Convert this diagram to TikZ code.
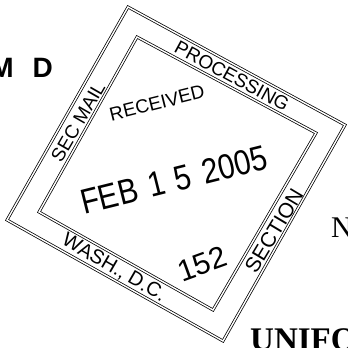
\documentclass[tikz,border=0pt]{standalone}
\usepackage{fontspec}
\setmainfont{Liberation Serif}
\setsansfont{Liberation Sans}
\usetikzlibrary{positioning}

\begin{document}
\begin{tikzpicture}[x=1pt,y=-1pt,
	stampline/.style={double,double distance=1.4pt,line width=0.75pt,line join=miter},
	stamptext/.style={font=\sffamily\fontsize{18}{18}\selectfont,inner sep=0pt}]
	\useasboundingbox (0,0) rectangle (348,348);

	% frame of the stamp
	\coordinate (otop) at (128,7);
	\coordinate (oright) at (345,125);
	\coordinate (obot) at (223,341);
	\coordinate (oleft) at (7,220);
	\coordinate (itop) at (137,37);
	\coordinate (iright) at (316,133);
	\coordinate (ibot) at (213,310);
	\coordinate (ileft) at (39,212);
	\draw[stampline] (otop) -- (oright) -- (obot) -- (oleft) -- cycle;
	\draw[stampline] (itop) -- (iright) -- (ibot) -- (ileft) -- cycle;

	% texts in the band
	\node[stamptext,rotate=60,font=\sffamily\fontsize{19}{19}\selectfont] (secmail) at (78,122) {SEC MAIL};
	\node[stamptext,rotate=-28.5,font=\sffamily\fontsize{19}{19}\selectfont] (processing) at (232,76) {PROCESSING};
	\node[stamptext,rotate=59,font=\sffamily\fontsize{21}{21}\selectfont] (section) at (274,231) {SECTION};
	\node[stamptext,rotate=-30,font=\sffamily\fontsize{20}{20}\selectfont] (wash) at (114,268) {WASH., D.C.};

	% texts inside
	\node[stamptext,rotate=14,font=\sffamily\fontsize{19}{19}\selectfont] (received) at (157,103) {RECEIVED};
	\node[stamptext,rotate=14,xscale=0.85,font=\sffamily\fontsize{35}{35}\selectfont] (date) at (174,180) {FEB\hspace{14pt}1\hspace{12pt}5\hspace{14pt}2005};
	\node[stamptext,rotate=20,font=\sffamily\fontsize{30}{30}\selectfont] (num) at (202,264) {152};

	% page text round the stamp
	\node[anchor=base east,inner sep=0pt,font=\sffamily\bfseries\fontsize{28}{28}\selectfont] (formd) at (53,77) {M\hspace{19pt}D};
	\node[anchor=base west,inner sep=0pt,font=\fontsize{30}{30}\selectfont] (nword) at (331,237) {N};
	\node[anchor=base west,inner sep=0pt,font=\bfseries\fontsize{33}{33}\selectfont] (unifo) at (250,350) {UNIFO};
\end{tikzpicture}
\end{document}
